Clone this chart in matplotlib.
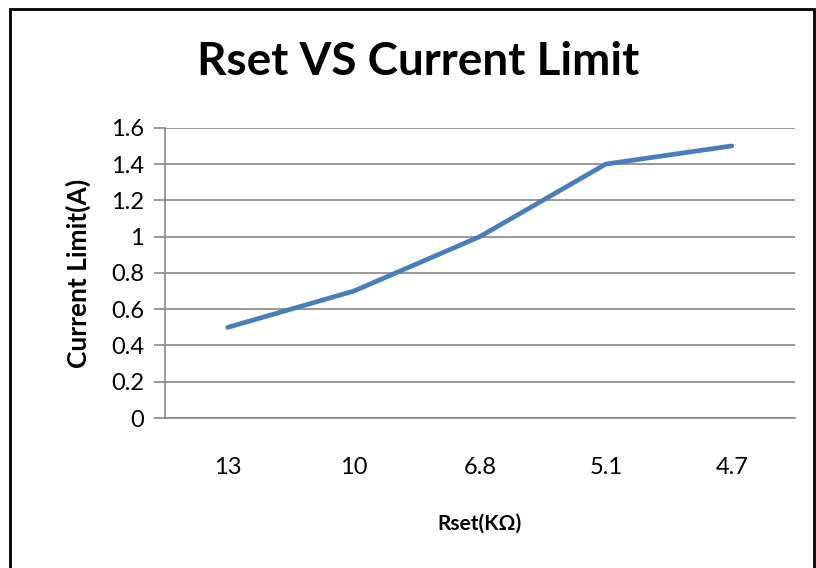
import matplotlib

matplotlib.use("Agg")

import matplotlib.pyplot as plt
from matplotlib.patches import Rectangle

plt.rcParams["font.family"] = ["Lato", "DejaVu Sans"]

rset_labels = ["13", "10", "6.8", "5.1", "4.7"]
current_limit = [0.5, 0.7, 1.0, 1.4, 1.5]
y_ticks = [0, 0.2, 0.4, 0.6, 0.8, 1.0, 1.2, 1.4, 1.6]
y_tick_labels = ["0", "0.2", "0.4", "0.6", "0.8", "1", "1.2", "1.4", "1.6"]

grid_color = "#878787"
line_color = "#4A7EBB"

fig = plt.figure(figsize=(8.16, 5.68), dpi=100)
ax = fig.add_axes([0.202, 0.264, 0.772, 0.511])

x = list(range(len(rset_labels)))
ax.plot(x, current_limit, color=line_color, linewidth=3.4, solid_capstyle="round", zorder=3)

ax.set_xlim(-0.5, len(rset_labels) - 0.5)
ax.set_ylim(0, 1.6)
ax.set_yticks(y_ticks)
ax.set_yticklabels(y_tick_labels)
ax.set_xticks(x)
ax.set_xticklabels(rset_labels)

ax.yaxis.grid(True, color=grid_color, linewidth=1.2)
ax.set_axisbelow(True)
for side in ["top", "right"]:
    ax.spines[side].set_visible(False)
ax.spines["left"].set_color(grid_color)
ax.spines["bottom"].set_color(grid_color)
ax.spines["left"].set_linewidth(1.2)
ax.spines["bottom"].set_linewidth(1.2)
ax.tick_params(axis="y", length=8, width=1.2, color=grid_color, labelsize=17, pad=7)
ax.tick_params(axis="x", length=0, labelsize=17, pad=28)

ax.set_xlabel("Rset(KΩ)", fontsize=15, fontweight="bold", labelpad=26)
ax.set_ylabel("Current Limit(A)", fontsize=19, fontweight="bold", labelpad=14)

fig.text(0.512, 0.89, "Rset VS Current Limit", ha="center", va="center",
         fontsize=33, fontweight="bold")

# outer chart frame
fig.patches.append(Rectangle((0.012, -0.05), 0.985, 1.035, transform=fig.transFigure,
                             fill=False, edgecolor="black", linewidth=2))

fig.savefig("out.png", dpi=100)
